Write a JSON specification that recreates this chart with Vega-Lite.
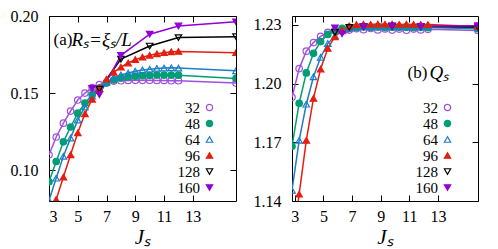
{
  "$schema": "https://vega.github.io/schema/vega-lite/v6.json",
  "padding": {"left": 9, "top": 7, "right": 0, "bottom": 0},
  "spacing": 15,
  "resolve": {"scale": {"stroke": "independent", "fill": "independent", "shape": "independent"}},
  "config": {
    "font": "Liberation Serif",
    "view": {"stroke": "black", "strokeWidth": 1},
    "axis": {"domain": false, "grid": false, "tickColor": "black", "tickSize": -6, "tickWidth": 1, "labelFont": "Liberation Serif", "labelFontSize": 16, "labelColor": "black", "labelPadding": 17, "titleFont": "Liberation Serif", "titleFontSize": 21, "titleFontStyle": "italic", "titleFontWeight": "normal", "titleColor": "black", "titlePadding": 2},
    "axisX": {"labelPadding": 13},
    "legend": {"orient": "none", "legendY": 84, "padding": 0, "labelAlign": "right", "labelOffset": -17, "labelFontSize": 15, "labelFont": "Liberation Serif", "labelColor": "black", "rowPadding": -1, "symbolSize": 40, "symbolStrokeWidth": 1.2, "symbolOpacity": 1}
  },
  "datasets": {
    "rs": [
      {"L":"32","J":3,"v":0.110},{"L":"32","J":3.5,"v":0.1215},{"L":"32","J":4,"v":0.1305},{"L":"32","J":4.5,"v":0.1383},{"L":"32","J":5,"v":0.1455},{"L":"32","J":5.5,"v":0.150},{"L":"32","J":6,"v":0.1535},{"L":"32","J":6.5,"v":0.1555},{"L":"32","J":7,"v":0.157},{"L":"32","J":7.5,"v":0.1578},{"L":"32","J":8,"v":0.158},{"L":"32","J":8.5,"v":0.1582},{"L":"32","J":9,"v":0.1583},{"L":"32","J":9.5,"v":0.1583},{"L":"32","J":10,"v":0.1583},{"L":"32","J":10.5,"v":0.1582},{"L":"32","J":11,"v":0.1582},{"L":"32","J":11.5,"v":0.158},{"L":"32","J":12,"v":0.158},{"L":"32","J":16,"v":0.1565},
      {"L":"48","J":3,"v":0.0925},{"L":"48","J":3.5,"v":0.1056},{"L":"48","J":4,"v":0.1184},{"L":"48","J":4.5,"v":0.128},{"L":"48","J":5,"v":0.137},{"L":"48","J":5.5,"v":0.1435},{"L":"48","J":6,"v":0.149},{"L":"48","J":6.5,"v":0.153},{"L":"48","J":7,"v":0.1565},{"L":"48","J":7.5,"v":0.1585},{"L":"48","J":8,"v":0.1598},{"L":"48","J":8.5,"v":0.1605},{"L":"48","J":9,"v":0.161},{"L":"48","J":9.5,"v":0.1613},{"L":"48","J":10,"v":0.1615},{"L":"48","J":10.5,"v":0.1617},{"L":"48","J":11,"v":0.1617},{"L":"48","J":11.5,"v":0.1617},{"L":"48","J":12,"v":0.1616},{"L":"48","J":16,"v":0.1595},
      {"L":"64","J":3,"v":0.0803},{"L":"64","J":3.5,"v":0.0948},{"L":"64","J":4,"v":0.109},{"L":"64","J":4.5,"v":0.1208},{"L":"64","J":5,"v":0.1325},{"L":"64","J":5.5,"v":0.141},{"L":"64","J":6,"v":0.148},{"L":"64","J":6.5,"v":0.153},{"L":"64","J":7,"v":0.157},{"L":"64","J":7.5,"v":0.160},{"L":"64","J":8,"v":0.1618},{"L":"64","J":8.5,"v":0.163},{"L":"64","J":9,"v":0.1642},{"L":"64","J":9.5,"v":0.165},{"L":"64","J":10,"v":0.1655},{"L":"64","J":10.5,"v":0.166},{"L":"64","J":11,"v":0.1662},{"L":"64","J":11.5,"v":0.1664},{"L":"64","J":12,"v":0.1662},{"L":"64","J":16,"v":0.1645},
      {"L":"96","J":3,"v":0.066},{"L":"96","J":3.5,"v":0.081},{"L":"96","J":4,"v":0.0955},{"L":"96","J":4.5,"v":0.110},{"L":"96","J":5,"v":0.1242},{"L":"96","J":5.5,"v":0.1366},{"L":"96","J":6,"v":0.146},{"L":"96","J":6.5,"v":0.153},{"L":"96","J":7,"v":0.159},{"L":"96","J":7.5,"v":0.1635},{"L":"96","J":8,"v":0.1668},{"L":"96","J":8.5,"v":0.1695},{"L":"96","J":9,"v":0.1717},{"L":"96","J":9.5,"v":0.1733},{"L":"96","J":10,"v":0.1745},{"L":"96","J":10.5,"v":0.1755},{"L":"96","J":11,"v":0.1762},{"L":"96","J":11.5,"v":0.1768},{"L":"96","J":12,"v":0.177},{"L":"96","J":16,"v":0.1762},
      {"L":"128","J":6.5,"v":0.1525},{"L":"128","J":8,"v":0.172},{"L":"128","J":10,"v":0.1805},{"L":"128","J":12,"v":0.186},{"L":"128","J":16,"v":0.1866},
      {"L":"160","J":6,"v":0.153},{"L":"160","J":6.5,"v":0.149},{"L":"160","J":8,"v":0.1745},{"L":"160","J":10,"v":0.1882},{"L":"160","J":12,"v":0.1935},{"L":"160","J":16,"v":0.1962}
    ],
    "qs": [
      {"L":"32","J":2.8,"v":1.193},{"L":"32","J":3.3,"v":1.2077},{"L":"32","J":3.8,"v":1.2166},{"L":"32","J":4.3,"v":1.221},{"L":"32","J":4.8,"v":1.2242},{"L":"32","J":5.3,"v":1.2262},{"L":"32","J":5.8,"v":1.2272},{"L":"32","J":6.3,"v":1.2278},{"L":"32","J":6.8,"v":1.2274},{"L":"32","J":7.3,"v":1.2281},{"L":"32","J":7.8,"v":1.2276},{"L":"32","J":8.3,"v":1.2282},{"L":"32","J":8.8,"v":1.2275},{"L":"32","J":9.3,"v":1.228},{"L":"32","J":9.8,"v":1.2274},{"L":"32","J":10.3,"v":1.2279},{"L":"32","J":10.8,"v":1.2273},{"L":"32","J":11.3,"v":1.2279},{"L":"32","J":11.8,"v":1.2275},{"L":"32","J":12.3,"v":1.2278},{"L":"32","J":15.8,"v":1.2272},
      {"L":"48","J":2.8,"v":1.168},{"L":"48","J":3.3,"v":1.190},{"L":"48","J":3.8,"v":1.2055},{"L":"48","J":4.3,"v":1.2155},{"L":"48","J":4.8,"v":1.2215},{"L":"48","J":5.3,"v":1.2252},{"L":"48","J":5.8,"v":1.2272},{"L":"48","J":6.3,"v":1.2283},{"L":"48","J":6.8,"v":1.2288},{"L":"48","J":7.3,"v":1.2287},{"L":"48","J":7.8,"v":1.229},{"L":"48","J":8.3,"v":1.2288},{"L":"48","J":8.8,"v":1.229},{"L":"48","J":9.3,"v":1.2287},{"L":"48","J":9.8,"v":1.2289},{"L":"48","J":10.3,"v":1.2288},{"L":"48","J":10.8,"v":1.2289},{"L":"48","J":11.3,"v":1.2287},{"L":"48","J":11.8,"v":1.2288},{"L":"48","J":12.3,"v":1.2287},{"L":"48","J":15.8,"v":1.2281},
      {"L":"64","J":2.8,"v":1.1455},{"L":"64","J":3.3,"v":1.171},{"L":"64","J":3.8,"v":1.1895},{"L":"64","J":4.3,"v":1.2035},{"L":"64","J":4.8,"v":1.2135},{"L":"64","J":5.3,"v":1.2205},{"L":"64","J":5.8,"v":1.2245},{"L":"64","J":6.3,"v":1.227},{"L":"64","J":6.8,"v":1.2283},{"L":"64","J":7.3,"v":1.229},{"L":"64","J":7.8,"v":1.2292},{"L":"64","J":8.3,"v":1.2291},{"L":"64","J":8.8,"v":1.2293},{"L":"64","J":9.3,"v":1.2292},{"L":"64","J":9.8,"v":1.2293},{"L":"64","J":10.3,"v":1.2292},{"L":"64","J":10.8,"v":1.2293},{"L":"64","J":11.3,"v":1.2292},{"L":"64","J":11.8,"v":1.2292},{"L":"64","J":12.3,"v":1.2291},{"L":"64","J":15.8,"v":1.2286},
      {"L":"96","J":2.8,"v":1.118},{"L":"96","J":3.3,"v":1.1435},{"L":"96","J":3.8,"v":1.171},{"L":"96","J":4.3,"v":1.1925},{"L":"96","J":4.8,"v":1.2075},{"L":"96","J":5.3,"v":1.218},{"L":"96","J":5.8,"v":1.224},{"L":"96","J":6.3,"v":1.2275},{"L":"96","J":6.8,"v":1.2295},{"L":"96","J":7.3,"v":1.2302},{"L":"96","J":7.8,"v":1.2304},{"L":"96","J":8.3,"v":1.2303},{"L":"96","J":8.8,"v":1.2305},{"L":"96","J":9.3,"v":1.2304},{"L":"96","J":9.8,"v":1.2304},{"L":"96","J":10.3,"v":1.2303},{"L":"96","J":10.8,"v":1.2304},{"L":"96","J":11.3,"v":1.2303},{"L":"96","J":11.8,"v":1.2303},{"L":"96","J":12.3,"v":1.2302},{"L":"96","J":15.8,"v":1.2292},
      {"L":"128","J":5.8,"v":1.2262},{"L":"128","J":6.8,"v":1.2288},{"L":"128","J":7.8,"v":1.2292},{"L":"128","J":9.8,"v":1.2294},{"L":"128","J":11.8,"v":1.2293},{"L":"128","J":15.8,"v":1.229},
      {"L":"160","J":5.8,"v":1.2285},{"L":"160","J":6.3,"v":1.2255},{"L":"160","J":7.8,"v":1.2292},{"L":"160","J":9.8,"v":1.2295},{"L":"160","J":11.8,"v":1.2293},{"L":"160","J":15.8,"v":1.2296}
    ]
  },
  "hconcat": [
    {
      "width": 187, "height": 185,
      "data": {"name": "rs"},
      "layer": [
        {
          "mark": {"type": "line", "clip": true, "strokeWidth": 1.5},
          "encoding": {
            "x": {"field": "J", "type": "quantitative", "scale": {"domain": [3, 16], "nice": false, "zero": false}, "axis": {"orient": "bottom", "values": [3, 5, 7, 9, 11, 13], "title": "Jₛ"}},
            "y": {"field": "v", "type": "quantitative", "scale": {"domain": [0.08, 0.2], "nice": false, "zero": false}, "axis": {"orient": "left", "values": [0.10, 0.15, 0.20], "format": ".2f", "title": null}},
            "stroke": {"field": "L", "type": "nominal", "scale": {"domain": ["32","48","64","96","128","160"], "range": ["#a050e0","#009e73","#1a7ec8","#e51e10","#000000","#9400d3"]}}
          }
        },
        {
          "mark": {"type": "point", "clip": true, "filled": false, "size": 42, "strokeWidth": 1.2, "opacity": 1},
          "encoding": {
            "x": {"field": "J", "type": "quantitative", "axis": {"orient": "top", "values": [3, 5, 7, 9, 11, 13], "labels": false, "title": "Rₛ=ξₛ/L", "titleFontSize": 19, "titleAngle": 0, "titleAlign": "left", "titleBaseline": "middle", "titleX": 22, "titleY": 23}},
            "y": {"field": "v", "type": "quantitative", "axis": {"orient": "right", "values": [0.10, 0.15, 0.20], "labels": false, "title": "(a)", "titleFontStyle": "normal", "titleFontSize": 17, "titleAngle": 0, "titleAlign": "left", "titleBaseline": "middle", "titleX": -183, "titleY": 23}},
            "stroke": {"field": "L", "type": "nominal", "scale": {"domain": ["32","48","64","96","128","160"], "range": ["#a050e0","#009e73","#1a7ec8","#e51e10","#000000","#9400d3"]}, "legend": {"title": null, "legendX": 153}},
            "fill": {"field": "L", "type": "nominal", "scale": {"domain": ["32","48","64","96","128","160"], "range": ["transparent","#009e73","transparent","#e51e10","transparent","#9400d3"]}, "legend": {"title": null, "legendX": 153}},
            "shape": {"field": "L", "type": "nominal", "scale": {"domain": ["32","48","64","96","128","160"], "range": ["circle","circle","triangle-up","triangle-up","triangle-down","triangle-down"]}, "legend": {"title": null, "legendX": 153}}
          }
        }
      ]
    },
    {
      "width": 186, "height": 185,
      "data": {"name": "qs"},
      "layer": [
        {
          "mark": {"type": "line", "clip": true, "strokeWidth": 1.5},
          "encoding": {
            "x": {"field": "J", "type": "quantitative", "scale": {"domain": [2.8, 15.8], "nice": false, "zero": false}, "axis": {"orient": "bottom", "values": [3, 5, 7, 9, 11, 13], "title": "Jₛ"}},
            "y": {"field": "v", "type": "quantitative", "scale": {"domain": [1.14, 1.2346], "nice": false, "zero": false}, "axis": {"orient": "left", "values": [1.14, 1.17, 1.20, 1.23], "format": ".2f", "title": null}},
            "stroke": {"field": "L", "type": "nominal", "scale": {"domain": ["32","48","64","96","128","160"], "range": ["#a050e0","#009e73","#1a7ec8","#e51e10","#000000","#9400d3"]}}
          }
        },
        {
          "mark": {"type": "point", "clip": true, "filled": false, "size": 42, "strokeWidth": 1.2, "opacity": 1},
          "encoding": {
            "x": {"field": "J", "type": "quantitative", "axis": {"orient": "top", "values": [3, 5, 7, 9, 11, 13], "labels": false, "title": "Qₛ", "titleFontSize": 19, "titleAngle": 0, "titleAlign": "left", "titleBaseline": "middle", "titleX": 137, "titleY": 56}},
            "y": {"field": "v", "type": "quantitative", "axis": {"orient": "right", "values": [1.14, 1.17, 1.20, 1.23], "labels": false, "title": "(b)", "titleFontStyle": "normal", "titleFontSize": 17, "titleAngle": 0, "titleAlign": "left", "titleBaseline": "middle", "titleX": -71, "titleY": 56}},
            "stroke": {"field": "L", "type": "nominal", "scale": {"domain": ["32","48","64","96","128","160"], "range": ["#a050e0","#009e73","#1a7ec8","#e51e10","#000000","#9400d3"]}, "legend": {"title": null, "legendX": 148}},
            "fill": {"field": "L", "type": "nominal", "scale": {"domain": ["32","48","64","96","128","160"], "range": ["transparent","#009e73","transparent","#e51e10","transparent","#9400d3"]}, "legend": {"title": null, "legendX": 148}},
            "shape": {"field": "L", "type": "nominal", "scale": {"domain": ["32","48","64","96","128","160"], "range": ["circle","circle","triangle-up","triangle-up","triangle-down","triangle-down"]}, "legend": {"title": null, "legendX": 148}}
          }
        }
      ]
    }
  ]
}
